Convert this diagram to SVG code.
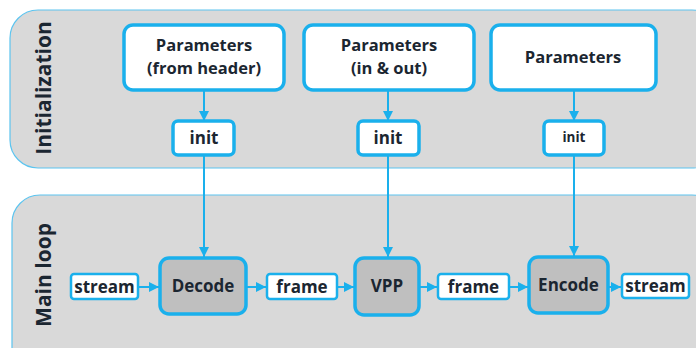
<svg xmlns="http://www.w3.org/2000/svg" width="696" height="348" viewBox="0 0 696 348">
<defs>
<marker id="ah" viewBox="0 0 10 10" refX="10" refY="5" markerWidth="10" markerHeight="10" markerUnits="userSpaceOnUse" orient="auto">
<path d="M0,0 L10,5 L0,10 z" fill="#1ab0ec"/>
</marker>
<style>
.panel{fill:#d9d9d9;stroke:#5cc4ef;stroke-width:1.2}
.param{fill:#fff;stroke:#1ab0ec;stroke-width:3.5}
.init{fill:#fff;stroke:#1ab0ec;stroke-width:3.5}
.proc{fill:#bfbfbf;stroke:#1ab0ec;stroke-width:3.5}
.data{fill:#fff;stroke:#1ab0ec;stroke-width:2.5}
.t{font-family:"Open Sans","Noto Sans",sans-serif;font-weight:700;fill:#1b2631;text-anchor:middle}
.conn{stroke:#1ab0ec;stroke-width:2;fill:none;marker-end:url(#ah)}
</style>
</defs>
<g id="panel-init">
<rect class="panel" x="10" y="10" width="710" height="158" rx="28"/>
<text class="t" font-size="21" transform="translate(51,88) rotate(-90)">Initialization</text>
</g>
<g id="panel-main">
<rect class="panel" x="12" y="195" width="708" height="190" rx="28"/>
<text class="t" font-size="21" transform="translate(51,275) rotate(-90)">Main loop</text>
</g>
<g id="connectors">
<line class="conn" x1="204" y1="90" x2="204" y2="121"/>
<line class="conn" x1="388" y1="90" x2="388" y2="121"/>
<line class="conn" x1="574" y1="90" x2="574" y2="121"/>
<line class="conn" x1="204" y1="155" x2="204" y2="257"/>
<line class="conn" x1="388" y1="155" x2="388" y2="257"/>
<line class="conn" x1="574" y1="155" x2="574" y2="256"/>
<line class="conn" x1="138" y1="287" x2="159" y2="287"/>
<line class="conn" x1="246" y1="287" x2="266" y2="287"/>
<line class="conn" x1="337" y1="287" x2="354" y2="287"/>
<line class="conn" x1="419" y1="287" x2="437" y2="287"/>
<line class="conn" x1="509" y1="287" x2="528" y2="287"/>
<line class="conn" x1="608" y1="287" x2="621" y2="287"/>
</g>
<g id="params-header">
<rect class="param" x="124" y="25" width="160" height="65" rx="9"/>
<text class="t" font-size="16.5" x="204" y="51">Parameters</text>
<text class="t" font-size="16.5" x="204" y="74">(from header)</text>
</g>
<g id="params-inout">
<rect class="param" x="304" y="25" width="170" height="65" rx="9"/>
<text class="t" font-size="16.5" x="389" y="51">Parameters</text>
<text class="t" font-size="16.5" x="389" y="74">(in &amp; out)</text>
</g>
<g id="params">
<rect class="param" x="491" y="25" width="165" height="65" rx="9"/>
<text class="t" font-size="16.5" x="573" y="63">Parameters</text>
</g>
<g id="init-decode">
<rect class="init" x="173" y="121" width="61" height="34" rx="5"/>
<text class="t" font-size="17" x="204" y="144">init</text>
</g>
<g id="init-vpp">
<rect class="init" x="358" y="121" width="61" height="34" rx="5"/>
<text class="t" font-size="17" x="388" y="144">init</text>
</g>
<g id="init-encode">
<rect class="init" x="544" y="121" width="60" height="34" rx="5"/>
<text class="t" font-size="13.5" x="574" y="142">init</text>
</g>
<g id="stream-in">
<rect class="data" x="71" y="274" width="67" height="25" rx="3"/>
<text class="t" font-size="17" x="104.5" y="293">stream</text>
</g>
<g id="decode">
<rect class="proc" x="160" y="258" width="86" height="56" rx="9"/>
<text class="t" font-size="17" x="203" y="292">Decode</text>
</g>
<g id="frame-1">
<rect class="data" x="267" y="274" width="70" height="25" rx="3"/>
<text class="t" font-size="17" x="302" y="293">frame</text>
</g>
<g id="vpp">
<rect class="proc" x="355" y="258" width="64" height="57" rx="9"/>
<text class="t" font-size="17" x="387" y="292">VPP</text>
</g>
<g id="frame-2">
<rect class="data" x="438" y="274" width="71" height="25" rx="3"/>
<text class="t" font-size="17" x="473.5" y="293">frame</text>
</g>
<g id="encode">
<rect class="proc" x="529" y="257" width="79" height="56" rx="9"/>
<text class="t" font-size="17" x="568.5" y="291">Encode</text>
</g>
<g id="stream-out">
<rect class="data" x="622" y="274" width="67" height="24" rx="3"/>
<text class="t" font-size="17" x="655.5" y="292">stream</text>
</g>
</svg>
